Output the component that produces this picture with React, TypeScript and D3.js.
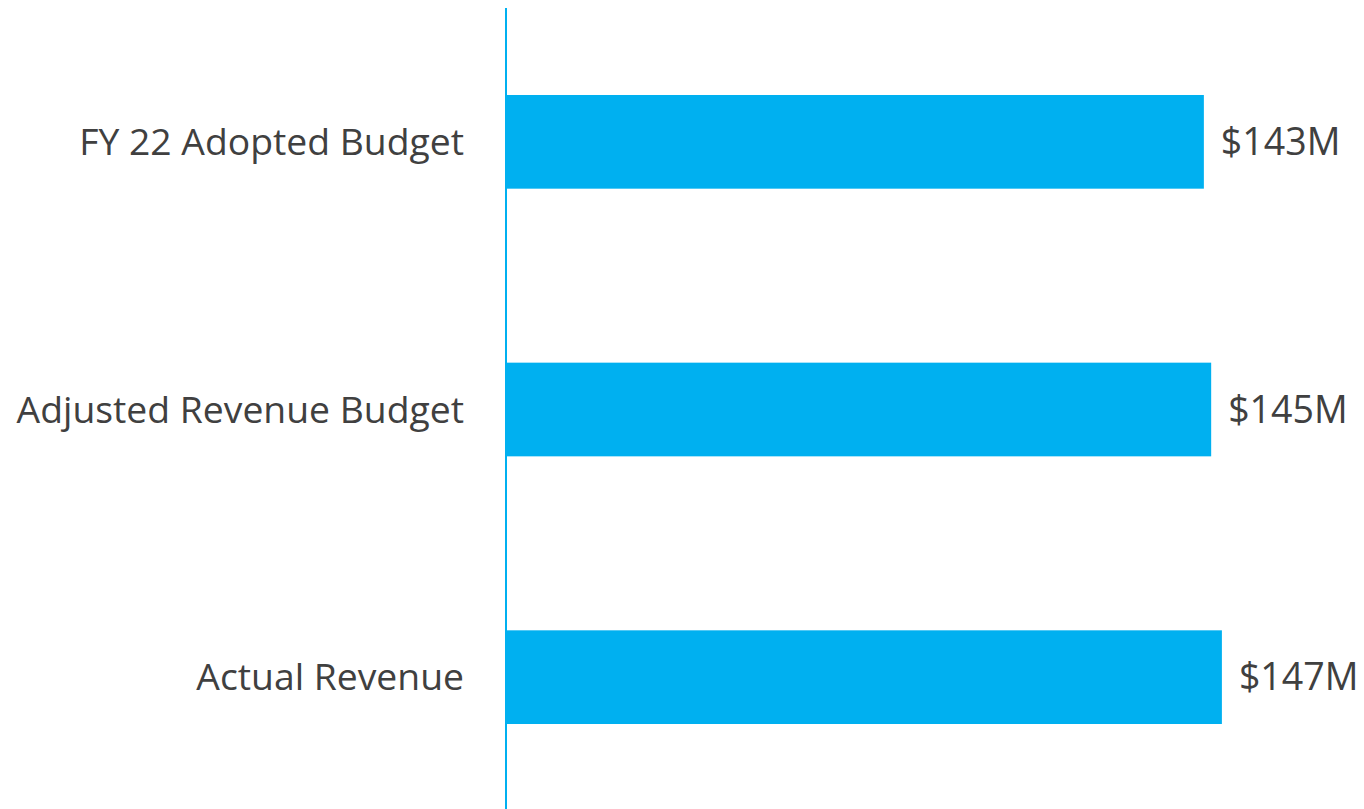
import React from "react";
import * as d3 from "d3";

const categories = ["FY 22 Adopted Budget", "Adjusted Revenue Budget", "Actual Revenue"];
const values = [143.3, 144.8, 147.0];
const valueLabels = ["$143M", "$145M", "$147M"];

const W = 1364;
const H = 809;
const x0 = 506;

export default function App() {
  const x = d3.scaleLinear().domain([0, 1]).range([x0, x0 + 4.87]);
  const y = d3
    .scaleBand<string>()
    .domain(categories)
    .range([8, 811])
    .paddingInner(0.65)
    .paddingOuter(0.325);
  const font = "Open Sans, sans-serif";
  return (
    <svg
      width={W}
      height={H}
      style={{ position: "absolute", left: 0, top: 0, background: "#fff" }}
    >
      {categories.map((c, i) => {
        const yy = y(c)!;
        const bw = y.bandwidth();
        return (
          <g key={c}>
            <rect x={x(0)} y={yy} width={x(values[i]) - x(0)} height={bw} fill="#00B0F0" />
            <text
              x={464}
              y={yy + bw / 2}
              dy="0.35em"
              textAnchor="end"
              fontFamily={font}
              fontSize={37.3}
              fill="#404040"
            >
              {c}
            </text>
            <text
              x={x(values[i]) + 17}
              y={yy + bw / 2}
              dy="0.35em"
              textAnchor="start"
              fontFamily={font}
              fontSize={37.5}
              fill="#404040"
            >
              {valueLabels[i]}
            </text>
          </g>
        );
      })}
      <line x1={x0} x2={x0} y1={8} y2={H} stroke="#00B0F0" strokeWidth={2} />
    </svg>
  );
}
